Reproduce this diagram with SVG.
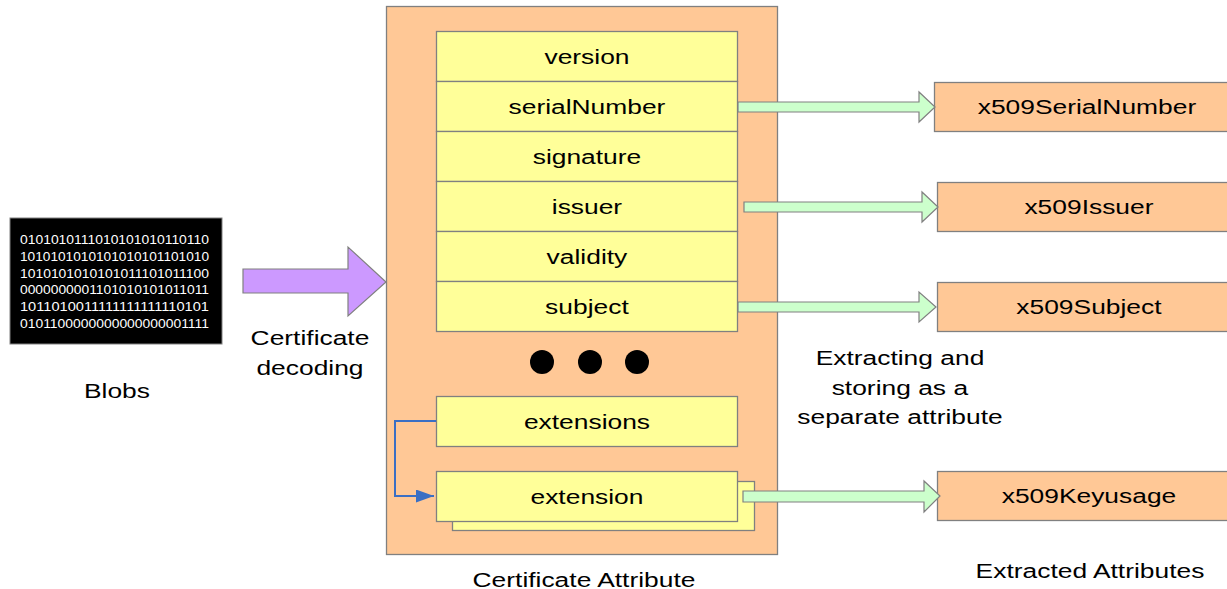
<svg xmlns="http://www.w3.org/2000/svg" width="1227" height="589" viewBox="0 0 1227 589">
<style>
.t{font-family:"Liberation Sans",Arial,sans-serif;font-size:20px;fill:#000;text-anchor:middle;transform-box:fill-box;transform-origin:center;transform:scaleX(1.32)}
.peach{fill:#FFC896;stroke:#808080;stroke-width:1.3}
.yel{fill:#FFFF99;stroke:#808080;stroke-width:1.3}
.grn{fill:#CCFFCC;stroke:#808080;stroke-width:1.2}
.bin{font-family:"Liberation Sans",Arial,sans-serif;font-size:12px;fill:#fff}
</style>
<defs>
<marker id="blueArr" viewBox="0 0 10 10" refX="10" refY="5" markerWidth="18" markerHeight="13" markerUnits="userSpaceOnUse" orient="auto" preserveAspectRatio="none">
<path d="M0,0 L10,5 L0,10 z" fill="#3A6FC4"/>
</marker>
</defs>
<rect width="1227" height="589" fill="#fff"/>

<g id="blobs">
<rect x="10" y="218" width="212" height="126" fill="#000" stroke="#808080"/>
<text class="bin" x="20" y="244" textLength="189" lengthAdjust="spacingAndGlyphs">0101010111010101010110110</text>
<text class="bin" x="20" y="261" textLength="189" lengthAdjust="spacingAndGlyphs">1010101010101010101101010</text>
<text class="bin" x="20" y="278" textLength="189" lengthAdjust="spacingAndGlyphs">1010101010101011101011100</text>
<text class="bin" x="20" y="294" textLength="189" lengthAdjust="spacingAndGlyphs">0000000001101010101011011</text>
<text class="bin" x="20" y="311" textLength="189" lengthAdjust="spacingAndGlyphs">1011010011111111111110101</text>
<text class="bin" x="20" y="328" textLength="189" lengthAdjust="spacingAndGlyphs">0101100000000000000001111</text>
<text class="t" x="117" y="398">Blobs</text>
</g>

<g id="decode">
<path d="M243,269 L348,269 L348,247 L386,282 L348,316 L348,293 L243,293 z" fill="#CC99FF" stroke="#808080" stroke-width="1.2"/>
<text class="t" x="310" y="345">Certificate</text>
<text class="t" x="310" y="375">decoding</text>
</g>

<g id="certificate">
<rect class="peach" x="386.5" y="6.5" width="391" height="548"/>
<text class="t" x="584" y="587">Certificate Attribute</text>
</g>

<g id="fields">
<rect class="yel" x="436.5" y="31.5" width="301" height="50"/>
<rect class="yel" x="436.5" y="81.5" width="301" height="50"/>
<rect class="yel" x="436.5" y="131.5" width="301" height="50"/>
<rect class="yel" x="436.5" y="181.5" width="301" height="50"/>
<rect class="yel" x="436.5" y="231.5" width="301" height="50"/>
<rect class="yel" x="436.5" y="281.5" width="301" height="50"/>
<text class="t" x="587" y="64">version</text>
<text class="t" x="587" y="114">serialNumber</text>
<text class="t" x="587" y="164">signature</text>
<text class="t" x="587" y="214">issuer</text>
<text class="t" x="587" y="264">validity</text>
<text class="t" x="587" y="314">subject</text>
</g>

<g id="dots">
<circle cx="542" cy="362" r="12" fill="#000"/>
<circle cx="590" cy="362" r="12" fill="#000"/>
<circle cx="637" cy="362" r="12" fill="#000"/>
</g>

<g id="extensions">
<rect class="yel" x="436.5" y="396.5" width="301" height="50"/>
<text class="t" x="587" y="429">extensions</text>
</g>

<g id="extension">
<rect class="yel" x="452.5" y="481.5" width="302" height="49"/>
<rect class="yel" x="436.5" y="471.5" width="301" height="50"/>
<text class="t" x="587" y="504">extension</text>
</g>

<g id="x509SerialNumber">
<rect class="peach" x="934.5" y="82.5" width="300" height="49"/>
<text class="t" x="1087" y="114">x509SerialNumber</text>
</g>
<g id="x509Issuer">
<rect class="peach" x="937.5" y="182.5" width="300" height="49"/>
<text class="t" x="1089" y="214">x509Issuer</text>
</g>
<g id="x509Subject">
<rect class="peach" x="937.5" y="282.5" width="300" height="49"/>
<text class="t" x="1089" y="314">x509Subject</text>
</g>
<g id="x509Keyusage">
<rect class="peach" x="937.5" y="471.5" width="300" height="49"/>
<text class="t" x="1089" y="503">x509Keyusage</text>
</g>

<g id="labels">
<text class="t" x="900" y="365">Extracting and</text>
<text class="t" x="900" y="395">storing as a</text>
<text class="t" x="900" y="424">separate attribute</text>
<text class="t" x="1090" y="578">Extracted Attributes</text>
</g>

<g id="connectors">
<path class="grn" d="M738,102 L919,102 L919,92 L935,107 L919,122 L919,112 L738,112 z"/>
<path class="grn" d="M744,202 L922,202 L922,192 L938,207 L922,222 L922,212 L744,212 z"/>
<path class="grn" d="M738,302 L919,302 L919,292 L936,307 L919,322 L919,312 L738,312 z"/>
<path class="grn" d="M743,491 L924,491 L924,481 L940,496 L924,512 L924,502 L743,502 z"/>
<path d="M436,421 L395,421 L395,496 L434,496" fill="none" stroke="#3A6FC4" stroke-width="2" marker-end="url(#blueArr)"/>
</g>
</svg>
